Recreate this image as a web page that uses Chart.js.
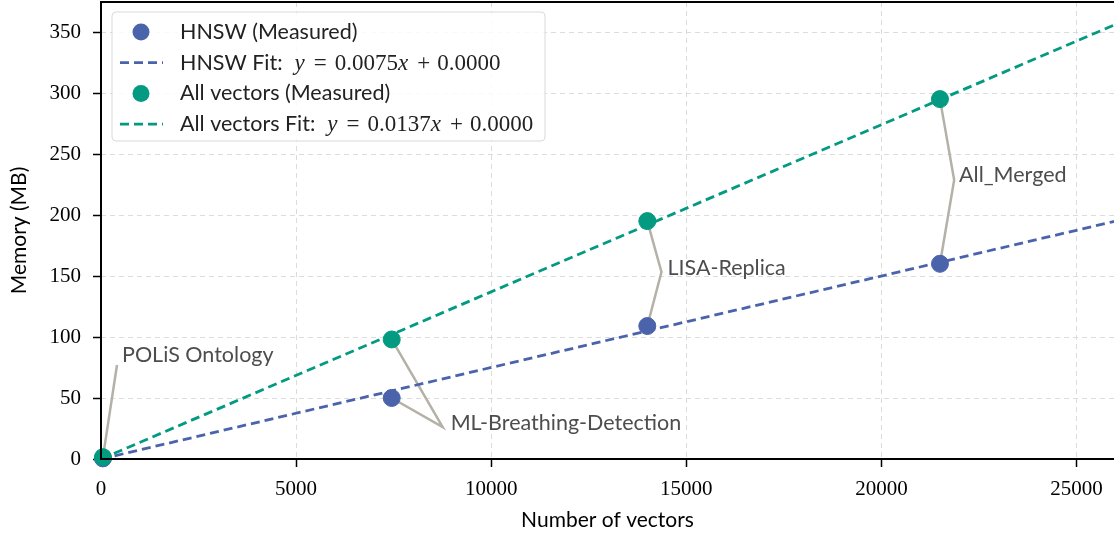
<!DOCTYPE html>
<html>
<head>
<meta charset="utf-8">
<script src="https://cdn.jsdelivr.net/npm/chart.js@4.4.0/dist/chart.umd.min.js"></script>
<style>
  html, body { margin: 0; padding: 0; background: #fff; }
  #wrap { width: 1114px; height: 535px; }
</style>
</head>
<body>
<div id="wrap"><canvas id="grafica" width="1114" height="535"></canvas></div>
<script>
// datos
const vectores = [50, 7450, 14000, 21500];
const memoriaHnsw = [0.5, 50, 109, 160];
const memoriaTodos = [1.5, 98, 195, 295];
const ajusteX = [0, 25960];
const ajusteHnsw = [0, 194.7];
const ajusteTodos = [0, 355.7];
const nombres = ['POLiS Ontology', 'ML-Breathing-Detection', 'LISA-Replica', 'All_Merged'];
// punto donde se juntan las lineas de cada etiqueta y donde va el texto
const codoX = [410, 8756, 14363, 21864];
const codoY = [77, 26.2, 153.3, 228.7];
const textoX = [538, 8960, 14516, 21990];
const textoY = [85, 29.5, 156.6, 233];
const ticksX = [0, 5000, 10000, 15000, 20000, 25000];
const ticksY = [0, 50, 100, 150, 200, 250, 300, 350];

const AZUL = '#4a63ab';
const VERDE = '#029a80';
const GRIS = '#b4b1a7';

function puntos(xs, ys) {
    return xs.map((x, i) => ({ x: x, y: ys[i] }));
}

// lineas grises de las etiquetas
const conectores = nombres.map((n, i) => {
    let data;
    if (i === 0) {
        data = [{ x: vectores[0], y: memoriaTodos[0] }, { x: codoX[0], y: codoY[0] }];
    } else {
        data = [
            { x: vectores[i], y: memoriaTodos[i] },
            { x: codoX[i], y: codoY[i] },
            { x: vectores[i], y: memoriaHnsw[i] }
        ];
    }
    return {
        type: 'line',
        label: 'etiqueta ' + n,
        data: data,
        borderColor: GRIS,
        borderWidth: 2.5,
        pointRadius: 0,
        fill: false,
        order: 5
    };
});

const etiquetasPlugin = {
    id: 'etiquetas',
    afterDatasetsDraw(chart) {
        const ctx = chart.ctx;
        const sx = chart.scales.x, sy = chart.scales.y;
        ctx.save();
        ctx.font = '21.5px Lato';
        ctx.fillStyle = '#4d4d4d';
        ctx.textAlign = 'left';
        ctx.textBaseline = 'middle';
        nombres.forEach((n, i) => {
            ctx.fillText(n, sx.getPixelForValue(textoX[i]), sy.getPixelForValue(textoY[i]));
        });
        ctx.restore();
    }
};

// texto tipo latex: y = 0.0075x + 0.0000
function textoMate(ctx, x, y, num) {
    const partes = [
        { t: 'y', it: true, g: 9 },
        { t: '=', g: 8 },
        { t: num, g: 0 },
        { t: 'x', it: true, g: 9 },
        { t: '+', g: 7 },
        { t: '0.0000', g: 0 }
    ];
    partes.forEach(p => {
        ctx.font = (p.it ? 'italic ' : '') + '23px "Liberation Serif"';
        ctx.fillText(p.t, x, y);
        x += ctx.measureText(p.t).width + p.g;
    });
}

const leyendaPlugin = {
    id: 'leyenda',
    afterDraw(chart) {
        const ctx = chart.ctx;
        const a = chart.chartArea;
        const bx = a.left + 11, by = a.top + 10, bw = 433, bh = 129;
        ctx.save();
        ctx.beginPath();
        ctx.roundRect(bx, by, bw, bh, 4);
        ctx.fillStyle = 'rgba(255,255,255,0.85)';
        ctx.fill();
        ctx.strokeStyle = '#d9d9d9';
        ctx.lineWidth = 1;
        ctx.stroke();

        const filas = [
            { tipo: 'p', color: AZUL, txt: 'HNSW (Measured)' },
            { tipo: 'l', color: AZUL, txt: 'HNSW Fit:', mate: '0.0075' },
            { tipo: 'p', color: VERDE, txt: 'All vectors (Measured)' },
            { tipo: 'l', color: VERDE, txt: 'All vectors Fit:', mate: '0.0137' }
        ];
        filas.forEach((f, i) => {
            const y = by + 20 + i * 30.7;
            if (f.tipo === 'p') {
                ctx.beginPath();
                ctx.arc(bx + 29, y, 8.5, 0, Math.PI * 2);
                ctx.fillStyle = f.color;
                ctx.fill();
            } else {
                ctx.beginPath();
                ctx.setLineDash([9, 5]);
                ctx.moveTo(bx + 8, y);
                ctx.lineTo(bx + 51, y);
                ctx.strokeStyle = f.color;
                ctx.lineWidth = 2.8;
                ctx.stroke();
                ctx.setLineDash([]);
            }
            ctx.fillStyle = '#222';
            ctx.textBaseline = 'middle';
            ctx.textAlign = 'left';
            ctx.font = '21.5px Lato';
            const tx = bx + 68;
            ctx.fillText(f.txt, tx, y);
            if (f.mate) {
                const w = ctx.measureText(f.txt).width;
                textoMate(ctx, tx + w + 12, y + 1, f.mate);
            }
        });
        ctx.restore();
    }
};

// ejes arriba, izquierda y abajo (el de la derecha queda fuera de la imagen)
const marcoPlugin = {
    id: 'marco',
    afterDatasetsDraw(chart) {
        const ctx = chart.ctx;
        const a = chart.chartArea;
        ctx.save();
        ctx.strokeStyle = '#000';
        ctx.lineWidth = 2;
        ctx.beginPath();
        ctx.moveTo(a.right + 2, a.top);
        ctx.lineTo(a.left, a.top);
        ctx.lineTo(a.left, a.bottom);
        ctx.lineTo(a.right + 2, a.bottom);
        ctx.stroke();
        ctx.restore();
    }
};

const ctx = document.getElementById('grafica').getContext('2d');
new Chart(ctx, {
    type: 'scatter',
    data: {
        datasets: [
            {
                type: 'line',
                label: 'HNSW Fit: y = 0.0075x + 0.0000',
                data: puntos(ajusteX, ajusteHnsw),
                borderColor: AZUL,
                borderWidth: 2.8,
                borderDash: [9, 5],
                pointRadius: 0,
                fill: false,
                order: 3
            },
            {
                type: 'line',
                label: 'All vectors Fit: y = 0.0137x + 0.0000',
                data: puntos(ajusteX, ajusteTodos),
                borderColor: VERDE,
                borderWidth: 2.8,
                borderDash: [9, 5],
                pointRadius: 0,
                fill: false,
                order: 3
            },
            ...conectores,
            {
                label: 'HNSW (Measured)',
                data: puntos(vectores, memoriaHnsw),
                backgroundColor: AZUL,
                borderColor: AZUL,
                pointRadius: 8.5,
                order: 1
            },
            {
                label: 'All vectors (Measured)',
                data: puntos(vectores, memoriaTodos),
                backgroundColor: VERDE,
                borderColor: VERDE,
                pointRadius: 8.5,
                order: 0
            }
        ]
    },
    options: {
        responsive: false,
        animation: false,
        clip: false,
        layout: { autoPadding: false, padding: { top: 2, right: 0, left: 0, bottom: 0 } },
        plugins: {
            legend: { display: false },
            tooltip: { enabled: false }
        },
        scales: {
            x: {
                type: 'linear',
                min: 0,
                max: 25960,
                afterFit: function (s) { s.height = 76; s.paddingLeft = 0; s.paddingRight = 0; },
                afterBuildTicks: function (s) { s.ticks = ticksX.map(v => ({ value: v })); },
                ticks: {
                    includeBounds: false,
                    maxRotation: 0,
                    padding: 10,
                    color: '#000',
                    font: { family: '"Liberation Serif"', size: 21 },
                    callback: v => String(v)
                },
                grid: { color: '#dcdcdc', lineWidth: 1, tickLength: 8, tickColor: '#000', tickWidth: 1.5, tickBorderDash: [] },
                border: { display: false, dash: [5, 4] },
                title: {
                    display: true,
                    text: 'Number of vectors',
                    color: '#000',
                    font: { family: 'Lato', size: 21 },
                    padding: { top: 0, bottom: 2 }
                }
            },
            y: {
                type: 'linear',
                min: 0,
                max: 374.6,
                afterFit: function (s) { s.width = 101; s.paddingTop = 0; s.paddingBottom = 0; },
                afterBuildTicks: function (s) { s.ticks = ticksY.map(v => ({ value: v })); },
                ticks: {
                    includeBounds: false,
                    padding: 12,
                    color: '#000',
                    font: { family: '"Liberation Serif"', size: 21 },
                    callback: v => String(v)
                },
                grid: { color: '#dcdcdc', lineWidth: 1, tickLength: 8, tickColor: '#000', tickWidth: 1.5, tickBorderDash: [] },
                border: { display: false, dash: [5, 4] },
                title: {
                    display: true,
                    text: 'Memory (MB)',
                    color: '#000',
                    font: { family: 'Lato', size: 21 },
                    padding: { top: 7, bottom: 0 }
                }
            }
        }
    },
    plugins: [etiquetasPlugin, marcoPlugin, leyendaPlugin]
});
</script>
</body>
</html>
